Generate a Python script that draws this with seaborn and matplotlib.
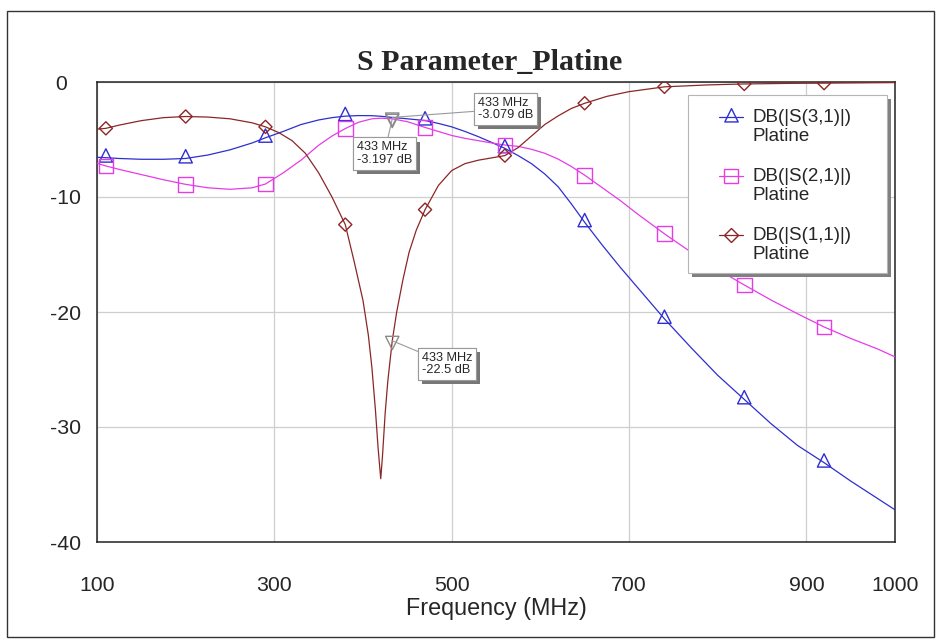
import numpy as np
import pandas as pd
import matplotlib
matplotlib.use("Agg")
import matplotlib.pyplot as plt
import seaborn as sns
from matplotlib.path import Path
from matplotlib.lines import Line2D
from matplotlib.patches import Rectangle
from matplotlib.legend_handler import HandlerLine2D
import matplotlib.patheffects as pe

# ---------------- data ----------------
freq_s31 = [100, 110, 125, 150, 175, 200, 225, 250, 275, 290, 310, 330, 350, 365, 380,
            395, 410, 420, 433, 450, 470, 485, 500, 515, 530, 545, 560, 575, 590, 605,
            620, 635, 650, 670, 690, 710, 740, 770, 800, 830, 860, 890, 920, 950, 980, 1000]
db_s31 = [-6.55, -6.58, -6.65, -6.72, -6.72, -6.65, -6.35, -5.9, -5.3, -4.85, -4.3, -3.7,
          -3.3, -3.1, -2.97, -2.92, -2.93, -2.98, -3.08, -3.2, -3.35, -3.6, -3.9, -4.3,
          -4.75, -5.25, -5.77, -6.4, -7.1, -8.0, -9.1, -10.6, -12.2, -14.2, -16.1, -17.9,
          -20.6, -23.1, -25.5, -27.6, -29.7, -31.6, -33.1, -34.7, -36.2, -37.2]

freq_s21 = [100, 110, 125, 150, 175, 200, 225, 250, 275, 290, 310, 330, 350, 365, 380,
            395, 410, 420, 433, 450, 470, 485, 500, 515, 530, 545, 560, 575, 590, 605,
            620, 635, 650, 670, 690, 710, 740, 770, 800, 830, 860, 890, 920, 950, 980, 1000]
db_s21 = [-7.07, -7.3, -7.6, -8.05, -8.5, -8.9, -9.2, -9.33, -9.2, -8.87, -7.9, -6.8,
          -5.5, -4.7, -4.05, -3.5, -3.2, -3.15, -3.2, -3.45, -3.95, -4.3, -4.65, -4.9,
          -5.1, -5.3, -5.48, -5.6, -5.85, -6.2, -6.7, -7.35, -8.1, -9.2, -10.3, -11.5,
          -13.2, -14.8, -16.3, -17.65, -18.95, -20.15, -21.3, -22.3, -23.2, -23.9]

freq_s11 = [100, 110, 125, 150, 175, 200, 225, 250, 275, 290, 305, 320, 335, 350, 365,
            380, 390, 400, 406, 410, 414, 417, 420, 422, 425, 428, 433, 438, 445, 452,
            460, 470, 485, 500, 515, 530, 545, 560, 575, 590, 605, 620, 635, 650, 675,
            700, 740, 790, 830, 880, 920, 1000]
db_s11 = [-4.1, -4.03, -3.75, -3.36, -3.1, -3.0, -3.05, -3.2, -3.55, -3.9, -4.4, -5.1,
          -6.2, -7.9, -10.0, -12.4, -15.6, -19.0, -22.0, -24.8, -28.5, -31.8, -34.5,
          -32.5, -28.8, -26.0, -22.5, -20.0, -17.2, -14.8, -12.9, -11.1, -9.0, -7.7,
          -7.1, -6.8, -6.6, -6.4, -5.7, -4.7, -3.7, -2.95, -2.3, -1.85, -1.25, -0.84,
          -0.42, -0.25, -0.17, -0.12, -0.1, -0.05]

marker_freq = [110, 200, 290, 380, 470, 560, 650, 740, 830, 920]
mk_s31 = [-6.58, -6.65, -4.85, -2.97, -3.35, -5.77, -12.2, -20.6, -27.6, -33.1]
mk_s21 = [-7.3, -8.9, -8.87, -4.05, -3.95, -5.48, -8.1, -13.2, -17.65, -21.3]
mk_s11 = [-4.03, -3.0, -3.9, -12.4, -11.1, -6.4, -1.85, -0.42, -0.17, -0.1]

trace_names = ["DB(|S(3,1)|)\nPlatine", "DB(|S(2,1)|)\nPlatine", "DB(|S(1,1)|)\nPlatine"]
trace_colors = ["#2e2ed2", "#e63ce6", "#8c2626"]

readout_freq = 433
readout_vals = [-3.079, -3.197, -22.5]
readout_text = ["433 MHz\n-3.079 dB", "433 MHz\n-3.197 dB", "433 MHz\n-22.5 dB"]
readout_text_pos = [(529.7, -2.35), (393.0, -6.22), (466.5, -24.5)]

x_ticks = [100, 300, 500, 700, 900, 1000]
x_tick_labels = ["100", "300", "500", "700", "900", "1000"]
y_ticks = [0, -10, -20, -30, -40]
y_tick_labels = [" 0", "-10", "-20", "-30", "-40"]

# ---------------- styling ----------------
sns.set_theme(style="white")
plt.rcParams["font.family"] = ["Liberation Sans", "DejaVu Sans"]
plt.rcParams["axes.unicode_minus"] = False

W, H = 942, 643
fig = plt.figure(figsize=(W / 100, H / 100), dpi=100)
ax = fig.add_axes([97 / W, 1 - 542 / H, (895 - 97) / W, (542 - 82) / H])

# markers whose centroid sits on the data point
tri_up = Path([(0, 4 / 3), (-1, -2 / 3), (1, -2 / 3), (0, 4 / 3)],
              [Path.MOVETO, Path.LINETO, Path.LINETO, Path.CLOSEPOLY])
tri_dn = Path([(0, -4 / 3), (-1, 2 / 3), (1, 2 / 3), (0, -4 / 3)],
              [Path.MOVETO, Path.LINETO, Path.LINETO, Path.CLOSEPOLY])
marker_shapes = [tri_up, "s", "D"]
marker_ms = [12.8, 10.6, 6.7]

df = pd.concat([
    pd.DataFrame({"freq": freq_s31, "db": db_s31, "trace": trace_names[0]}),
    pd.DataFrame({"freq": freq_s21, "db": db_s21, "trace": trace_names[1]}),
    pd.DataFrame({"freq": freq_s11, "db": db_s11, "trace": trace_names[2]}),
])
sns.lineplot(data=df, x="freq", y="db", hue="trace", hue_order=trace_names,
             palette=trace_colors, estimator=None, linewidth=0.9, legend=False,
             ax=ax, zorder=3)

for vals, col, mk, ms in zip([mk_s31, mk_s21, mk_s11], trace_colors, marker_shapes, marker_ms):
    sns.scatterplot(x=marker_freq, y=vals, marker=mk, s=ms ** 2, color=col, ax=ax,
                    zorder=4, legend=False)
    coll = ax.collections[-1]
    coll.set_facecolor("none")
    coll.set_edgecolor(col)
    coll.set_linewidth(1.0)

# readout markers
sns.scatterplot(x=[readout_freq] * 3, y=readout_vals, marker=tri_dn, s=12.8 ** 2,
                color="#8a8a8a", ax=ax, zorder=5, legend=False)
coll = ax.collections[-1]
coll.set_facecolor("none")
coll.set_edgecolor("#8a8a8a")
coll.set_linewidth(1.0)

for val, txt, pos in zip(readout_vals, readout_text, readout_text_pos):
    ann = ax.annotate(txt, xy=(readout_freq, val), xytext=pos, textcoords="data",
                      ha="left", va="center", fontsize=9.2, linespacing=1.05, zorder=6,
                      bbox=dict(boxstyle="square,pad=0.3", fc="white", ec="#9a9a9a", lw=0.8),
                      arrowprops=dict(arrowstyle="-", color="#9a9a9a", lw=0.8,
                                      shrinkA=0, shrinkB=0))
    ann.get_bbox_patch().set_path_effects([
        pe.withSimplePatchShadow(offset=(3, -3), shadow_rgbFace="#777777", alpha=1.0),
        pe.Normal()])

# axes styling
ax.set_xlim(100, 1000)
ax.set_ylim(-40, 0)
ax.set_xticks(x_ticks, x_tick_labels)
ax.set_yticks(y_ticks, y_tick_labels)
ax.grid(True, color="#cfcfcf", linewidth=0.9)
ax.tick_params(axis="both", length=0, labelsize=15.3)
ax.tick_params(axis="x", pad=24.5)
ax.tick_params(axis="y", pad=34)
for lab in ax.get_yticklabels():
    lab.set_horizontalalignment("left")
for s in ax.spines.values():
    s.set_visible(True)
    s.set_color("#222222")
    s.set_linewidth(1.1)
ax.set_xlabel("Frequency (MHz)", fontsize=16.8, labelpad=1.5)
ax.set_ylabel("")
ax.set_title("S Parameter_Platine", fontsize=21.5, fontweight="bold",
             family=["Liberation Serif", "DejaVu Serif"], pad=9, x=0.4925)

# legend frame with shadow (drawn manually) and legend entries
lx0, ly0, lx1, ly1 = 0.7406, 0.585, 0.99, 0.972
dx, dy = 4 / 798, 4 / 460
ax.add_patch(Rectangle((lx0 + dx, ly0 - dy), lx1 - lx0, ly1 - ly0, transform=ax.transAxes,
                       fc="#808080", ec="none", zorder=7, clip_on=False))
ax.add_patch(Rectangle((lx0, ly0), lx1 - lx0, ly1 - ly0, transform=ax.transAxes,
                       fc="white", ec="#b5b5b5", lw=0.8, zorder=8, clip_on=False))


class FirstLineHandler(HandlerLine2D):
    """Place the legend sample next to the first line of a two-line label."""
    def create_artists(self, legend, orig_handle, xdescent, ydescent, width, height,
                       fontsize, trans):
        arts = super().create_artists(legend, orig_handle, xdescent, ydescent, width,
                                      height, fontsize, trans)
        for a in arts:
            a.set_ydata(np.asarray(a.get_ydata(), dtype=float) + 0.55 * fontsize)
        return arts


handles = [Line2D([0], [0], color=c, lw=0.9, marker=m, markersize=ms,
                  markerfacecolor="none", markeredgecolor=c, markeredgewidth=1.0)
           for c, m, ms in zip(trace_colors, marker_shapes, marker_ms)]
leg = ax.legend(handles, trace_names, loc="upper left", bbox_to_anchor=(0.7794, 0.942),
                borderpad=0, borderaxespad=0, frameon=False, handlelength=1.3,
                handletextpad=0.5, labelspacing=1.2, fontsize=13.5,
                handler_map={Line2D: FirstLineHandler()})
leg.set_zorder(9)

# outer figure border
fig.add_artist(Rectangle((7 / W, 1 - 637 / H), (934 - 7) / W, (637 - 11) / H,
                         transform=fig.transFigure, fill=False, ec="#333333", lw=1.0))

fig.savefig("out.png", dpi=100)
